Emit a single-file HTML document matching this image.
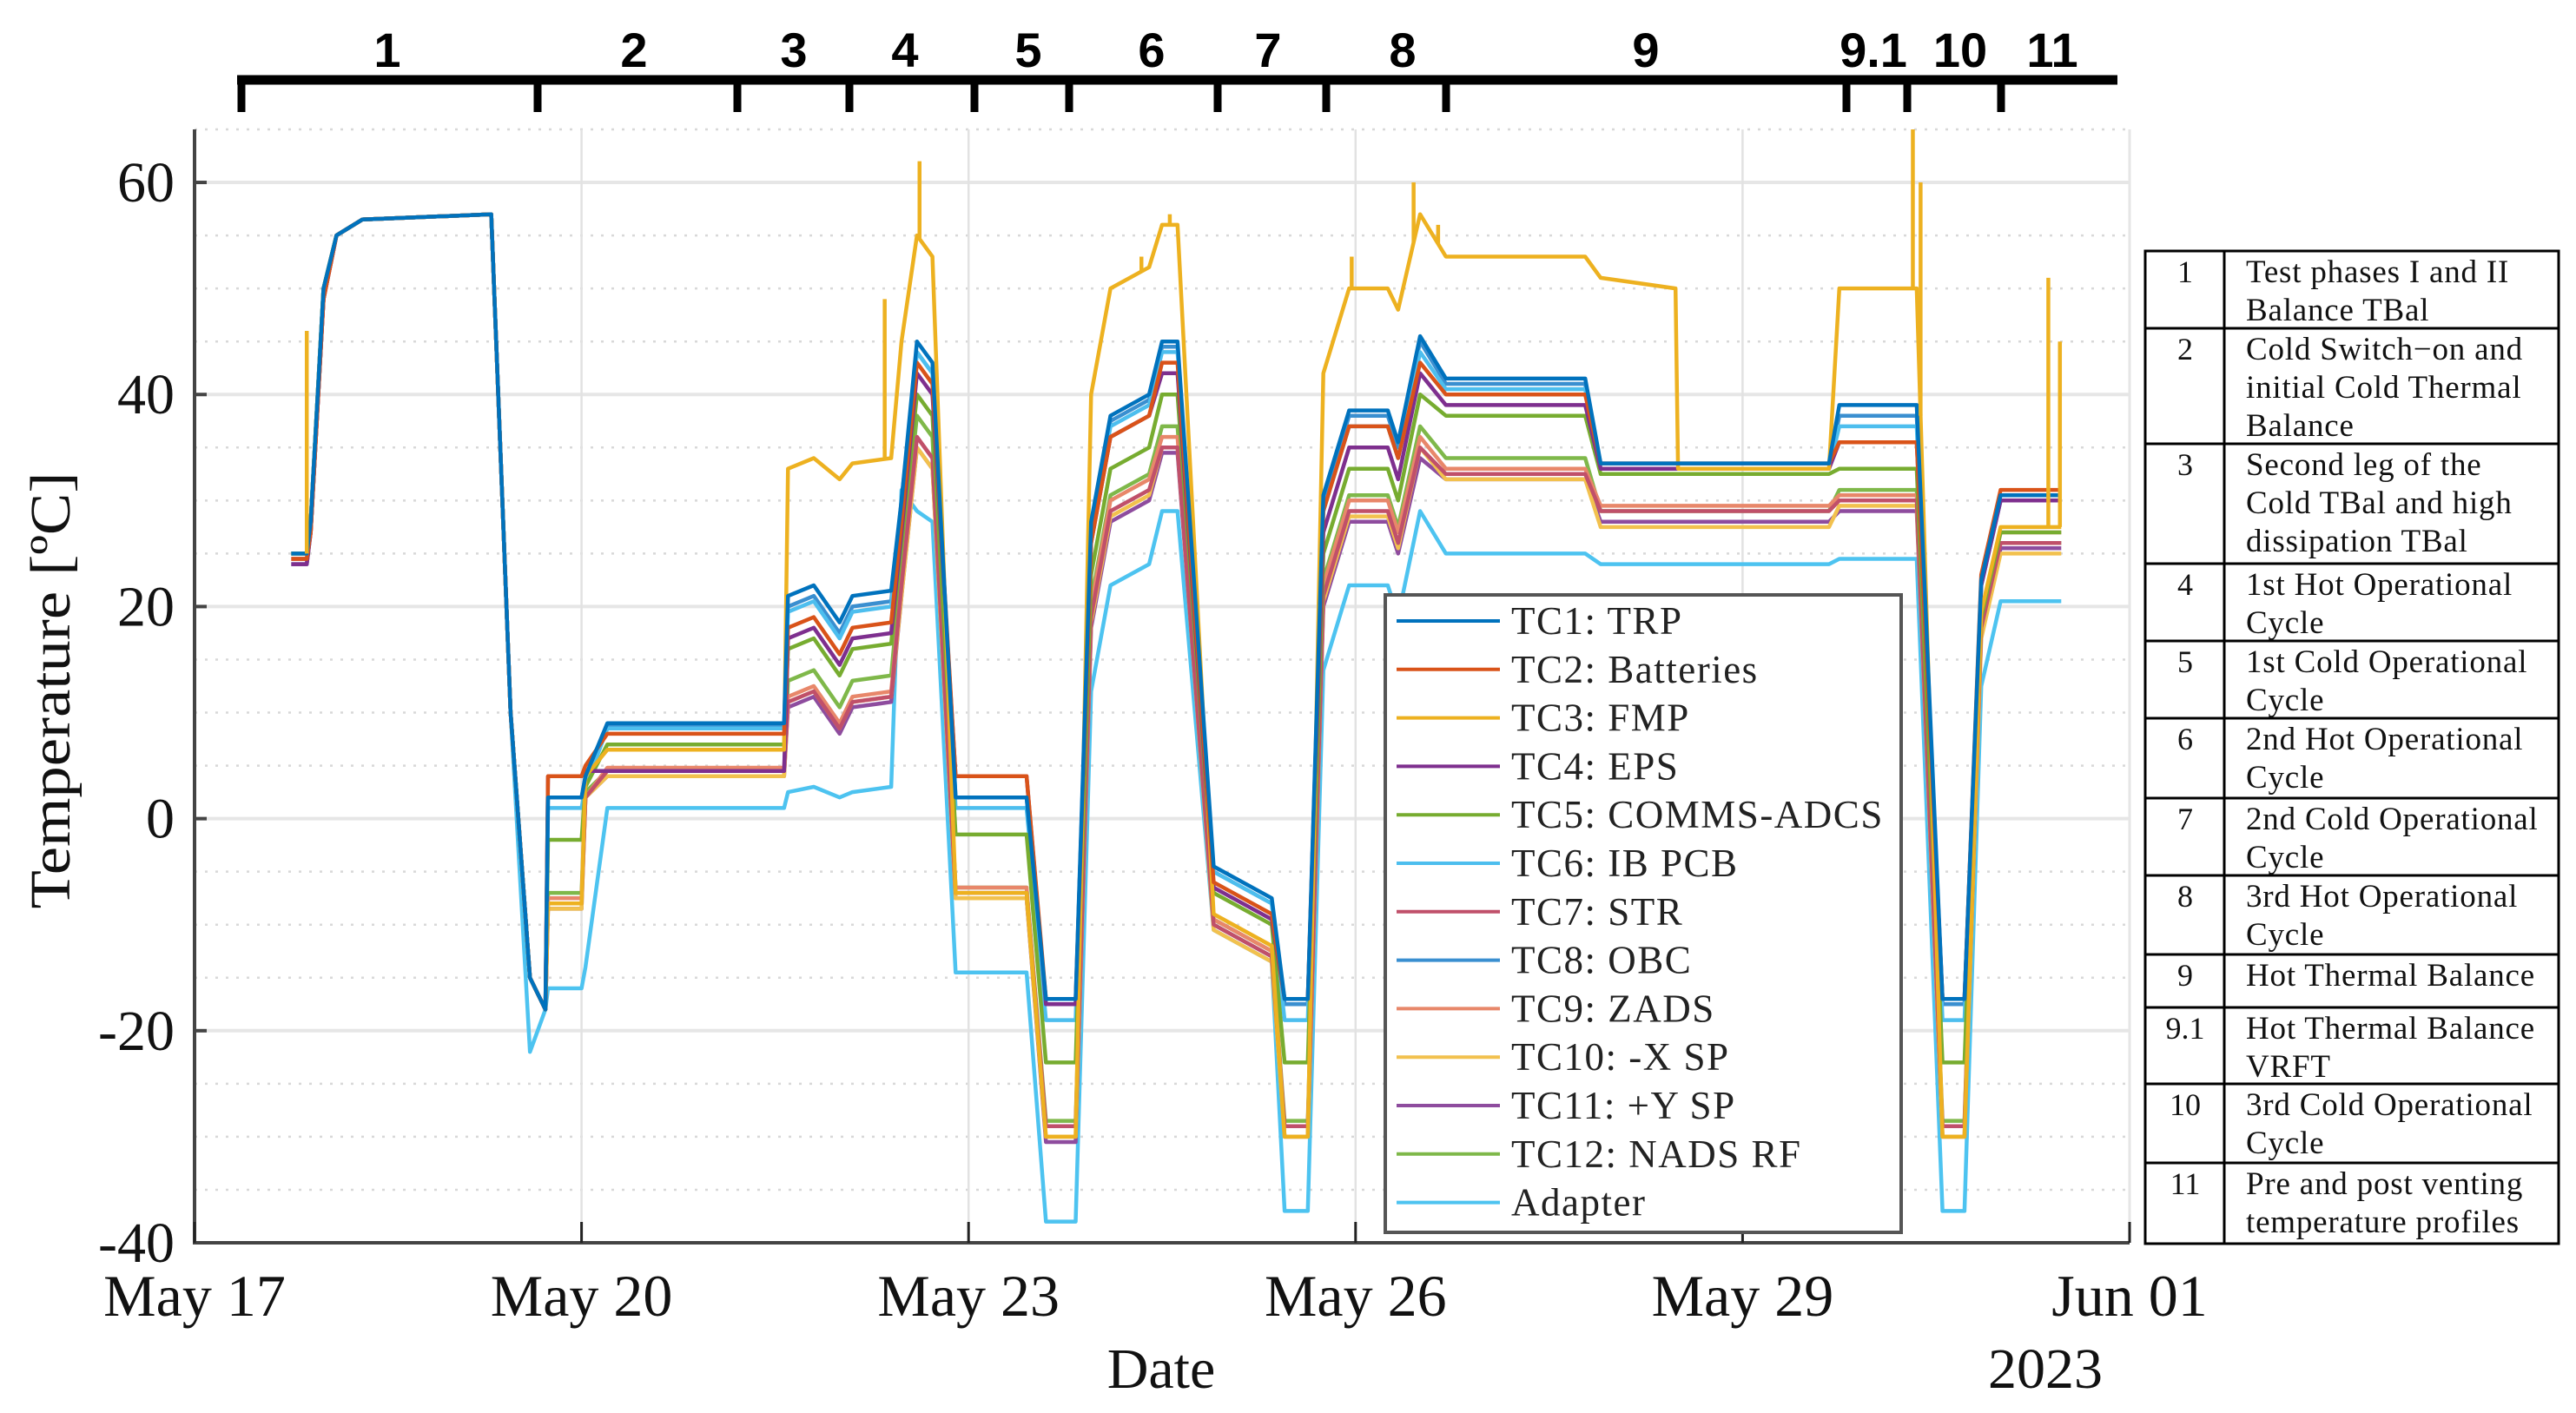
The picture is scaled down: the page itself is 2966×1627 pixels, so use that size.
<!DOCTYPE html>
<html><head><meta charset="utf-8">
<style>
html,body{margin:0;padding:0;background:#fff;}
svg{display:block;}
</style></head>
<body>
<svg id="chart" xmlns="http://www.w3.org/2000/svg" width="2966" height="1627" viewBox="0 0 2966 1627">
<rect width="2966" height="1627" fill="#fff"/>
<g id="grid"></g>
<g id="series"></g>
<g id="axes"></g>
<g id="phases"></g>
<g id="legend"></g>
<g id="table"></g>
</svg>
<script>
// ---- data ----
const xTickLabels = ["May 17","May 20","May 23","May 26","May 29","Jun 01"];
const xTickDays = [0,3,6,9,12,15];
const yTicks = [60,40,20,0,-20,-40];
const seriesNames = ["TC1:  TRP","TC2:  Batteries","TC3:  FMP","TC4:  EPS","TC5:  COMMS-ADCS","TC6:  IB PCB","TC7:  STR","TC8:  OBC","TC9:  ZADS","TC10:  -X SP","TC11:  +Y SP","TC12:  NADS RF","Adapter"];
const seriesColors = ["#0072BD","#D95319","#EDB120","#7E2F8E","#77AC30","#4DBEEE","#C0506A","#3A8FD0","#E8876A","#F2C14E","#8E4C9E","#7FB84A","#4DC3F0"];
const timeDays = [0.75,0.87,0.9,1.0,1.1,1.3,2.3,2.45,2.6,2.72,2.74,3.0,3.03,3.2,4.57,4.6,4.8,5.0,5.1,5.4,5.48,5.6,5.72,5.9,6.45,6.6,6.83,6.95,7.1,7.4,7.5,7.62,7.9,8.35,8.45,8.63,8.75,8.95,9.25,9.33,9.5,9.7,10.78,10.9,11.48,11.5,12.67,12.75,13.35,13.55,13.72,13.85,14.0,14.47];
const tc1 = [25,25,28,50,55,56.5,57,10,-15,-18, 2,2,4,9,9, 21,22,18.5,21,21.5, 30,45,43, 2,2, -17,-17, 28,38,40,45,45, -4.5,-7.5, -17,-17, 30.5,38.5,38.5,35.5,45.5, 41.5,41.5, 33.5,33.5,33.5,33.5, 39,39, -17,-17, 22.5,30.5,30.5];
const tc2 = [24.5,24.5,27,49,55,56.5,57,10,-15,-18, 4,4,5,8,8, 18,19,15.5,18,18.5, 28,43,41, 4,4, -17,-17, 26,36,38,43,43, -6,-9, -17,-17, 29,37,37,34,43, 40,40, 33.5,33.5,33.5,33.5, 35.5,35.5, -17,-17, 23,31,31];
const tc3 = [25,25,28,50,55,56.5,57,10,-15,-18, -8,-8,4,6.5,6.5, 33,34,32,33.5,34, 45,55,53, -7,-7, -30,-30, 40,50,52,56,56, -9,-12, -30,-30, 42,50,50,48,57, 53,53, 51,50,33,33, 50,50, -30,-30, 19.5,27.5,27.5];
const tc4 = [24,24,27,49,55,56.5,57,10,-15,-18, 4,4,4.5,4.5,4.5, 17,18,14.5,17,17.5, 27,42,40, 4,4, -17.5,-17.5, 26,36,38,42,42, -6.5,-9.5, -17,-17, 27,35,35,32,42, 39,39, 33,33,33,33, 35.5,35.5, -17,-17, 22,30,30];
const tc5 = [25,25,28,50,55,56.5,57,10,-15,-18, -2,-2,3,7,7, 16,17,13.5,16,16.5, 26,40,38, -1.5,-1.5, -23,-23, 23,33,35,40,40, -7,-10, -23,-23, 25,33,33,30,40, 38,38, 32.5,32.5,32.5,32.5, 33,33, -23,-23, 19,27,27];
const tc6 = [25,25,28,50,55,56.5,57,10,-15,-18, 1,1,3,8.5,8.5, 19.5,20.5,17,19.5,20, 29,44,42, 1,1, -19,-19, 27,37,39,44,44, -5,-8, -19,-19, 29,37,37,34,44, 40.5,40.5, 33,33,33,33, 37,37, -19,-19, 22,30,30];
const tc7 = [24.5,24.5,27,49,55,56.5,57,10,-15,-18, -8,-8,2,4.5,4.5, 11,12,8.5,11,11.5, 22,36,34, -7,-7, -29,-29, 19,29,31,35,35, -10,-13, -29,-29, 21,29,29,26,35, 32.5,32.5, 29,29,29,29, 30,30, -29,-29, 18,26,26];
const tc8 = [25,25,28,50,55,56.5,57,10,-15,-18, 2,2,4,8.8,8.8, 20,21,17.5,20,20.5, 30,44,42, 2,2, -17.5,-17.5, 27.5,37.5,39.5,44.5,44.5, -5,-8, -17.5,-17.5, 30,38,38,35,45, 41,41, 33,33,33,33, 38,38, -17.5,-17.5, 22,30,30];
const tc9 = [24.5,24.5,27,49,55,56.5,57,10,-15,-18, -7.5,-7.5,2,4.8,4.8, 11.5,12.5,9,11.5,12, 22,36,34, -6.5,-6.5, -29,-29, 20,30,32,36,36, -9.5,-12.5, -29,-29, 22,30,30,27,36, 33,33, 29.5,29.5,29.5,29.5, 30.5,30.5, -29,-29, 19,27,27];
const tc10 = [25,25,28,50,55,56.5,57,10,-15,-18, -8.5,-8.5,2,4,4, 11,12,8.5,11,11.5, 21,35,33, -7.5,-7.5, -30,-30, 18.5,28.5,30.5,35,35, -10.5,-13.5, -30,-30, 20.5,28.5,28.5,25.5,35, 32,32, 27.5,27.5,27.5,27.5, 29.5,29.5, -30,-30, 17,25,25];
const tc11 = [24,24,27,49,55,56.5,57,10,-15,-18, -8.5,-8.5,2,4,4, 10.5,11.5,8,10.5,11, 21,35,33, -7.5,-7.5, -30.5,-30.5, 18,28,30,34.5,34.5, -10,-13, -30,-30, 20,28,28,25,34, 32,32, 28,28,28,28, 29,29, -30,-30, 17.5,25.5,25.5];
const tc12 = [25,25,28,50,55,56.5,57,10,-15,-18, -7,-7,2.5,4.5,4.5, 13,14,10.5,13,13.5, 24,38,36, -6.5,-6.5, -28.5,-28.5, 20.5,30.5,32.5,37,37, -9.5,-12.5, -28.5,-28.5, 22.5,30.5,30.5,27.5,37, 34,34, 29,29,29,29, 31,31, -28.5,-28.5, 18,26,26];
const adapter = [24,24,27,49,55,56.5,57,10,-22,-18, -16,-16,-14,1,1, 2.5,3,2,2.5,3, 31,29,28, -14.5,-14.5, -38,-38, 12,22,24,29,29, -10.5,-13.5, -37,-37, 14,22,22,19,29, 25,25, 24,24,24,24, 24.5,24.5, -37,-37, 12.5,20.5,20.5];
const fmpSpikeDays = [0.87,5.35,5.62,7.34,7.56,8.97,9.45,9.64,13.32,13.38,14.37,14.46];
const fmpSpikeTops = [46,49,62,53,57,53,60,56,65,60,51,45];
const phaseLabels = ["1","2","3","4","5","6","7","8","9","9.1","10","11"];
const phaseLabelX = [446,730,914,1042,1184,1326,1460,1615,1895,2157,2257,2363];
const phaseTickX = [278,619,849,978,1122,1231,1402,1527,1665,2126,2196,2304];
const tableNums = ["1","2","3","4","5","6","7","8","9","9.1","10","11"];
const tableText = [["Test phases I and II","Balance TBal"],["Cold Switch\u2212on and","initial Cold Thermal","Balance"],["Second leg of the","Cold TBal and high","dissipation TBal"],["1st Hot Operational","Cycle"],["1st Cold Operational","Cycle"],["2nd Hot Operational","Cycle"],["2nd Cold Operational","Cycle"],["3rd Hot Operational","Cycle"],["Hot Thermal Balance"],["Hot Thermal Balance","VRFT"],["3rd Cold Operational","Cycle"],["Pre and post venting","temperature profiles"]];
const allSeries = [tc1,tc2,tc3,tc4,tc5,tc6,tc7,tc8,tc9,tc10,tc11,tc12,adapter];

// ---- layout ----
const NS="http://www.w3.org/2000/svg";
const L=224,R=2452,TOP=149,BOT=1431;
const yMin=-40,yMax=65;
function X(d){return L+d*(R-L)/15;}
function Y(v){return BOT-(v-yMin)*(BOT-TOP)/(yMax-yMin);}
function mk(tag,attrs,parent){const e=document.createElementNS(NS,tag);for(const k in attrs)e.setAttribute(k,attrs[k]);parent.appendChild(e);return e;}
const grid=document.getElementById('grid'),ser=document.getElementById('series'),axes=document.getElementById('axes'),ph=document.getElementById('phases'),leg=document.getElementById('legend'),tab=document.getElementById('table');

// grid
for(let v=-35;v<=65;v+=5){
  if(v%20===0)continue;
  const g=mk('line',{x1:L,x2:R,y1:Y(v),y2:Y(v),stroke:'#d8d8d8','stroke-width':2.5,'stroke-dasharray':'3,9'},grid);
  
  
}
yTicks.forEach(v=>{
  const g=mk('line',{x1:L,x2:R,y1:Y(v),y2:Y(v),stroke:'#e6e6e6','stroke-width':4},grid);
  
  
});
xTickDays.forEach(d=>{
  const g=mk('line',{x1:X(d),x2:X(d),y1:TOP,y2:BOT,stroke:'#e2e2e2','stroke-width':2.5},grid);
  
  
});

// series
function interp(arr,d){for(let i=0;i<timeDays.length-1;i++){if(d>=timeDays[i]&&d<=timeDays[i+1]){const f=(d-timeDays[i])/(timeDays[i+1]-timeDays[i]);return arr[i]+f*(arr[i+1]-arr[i]);}}return arr[arr.length-1];}
for(let s=allSeries.length-1;s>=0;s--){
  const vals=allSeries[s];
  const pts=timeDays.map((d,i)=>X(d).toFixed(1)+','+Y(vals[i]).toFixed(1)).join(' ');
  const p=mk('polyline',{points:pts,fill:'none',stroke:seriesColors[s],'stroke-width':4.5,'stroke-linejoin':'round'},ser);
  
  
}
fmpSpikeDays.forEach((d,i)=>{
  const l=mk('line',{x1:X(d),x2:X(d),y1:Y(interp(tc3,d)),y2:Y(fmpSpikeTops[i]),stroke:seriesColors[2],'stroke-width':4.5},ser);
  
  
});

// axes
const ax1=mk('line',{x1:L,x2:L,y1:TOP,y2:BOT+2,stroke:'#444','stroke-width':4},axes);


const ax2=mk('line',{x1:L-2,x2:R,y1:BOT,y2:BOT,stroke:'#444','stroke-width':4},axes);


const ax3=mk('line',{x1:R,x2:R,y1:TOP,y2:BOT,stroke:'#e6e6e6','stroke-width':3},axes);


yTicks.forEach(v=>{
  const t=mk('line',{x1:L,x2:L+14,y1:Y(v),y2:Y(v),stroke:'#444','stroke-width':4},axes);
  
  
  const tx=mk('text',{x:201,y:Y(v)+22,'text-anchor':'end','font-family':'Liberation Serif, serif','font-size':66,fill:'#111'},axes);
  tx.textContent=String(v);
  
  
});
xTickDays.forEach((d,i)=>{
  const t=mk('line',{x1:X(d),x2:X(d),y1:BOT,y2:BOT-24,stroke:'#222','stroke-width':3},axes);
  
  
  const tx=mk('text',{x:X(d),y:1515,'text-anchor':'middle','font-family':'Liberation Serif, serif','font-size':68,fill:'#111'},axes);
  tx.textContent=xTickLabels[i];
  
  
});
const xt=mk('text',{x:1337,y:1598,'text-anchor':'middle','font-family':'Liberation Serif, serif','font-size':66,fill:'#111'},axes);
xt.textContent='Date';


const yr=mk('text',{x:2355,y:1598,'text-anchor':'middle','font-family':'Liberation Serif, serif','font-size':66,fill:'#111'},axes);
yr.textContent='2023';


const yt=mk('text',{x:0,y:0,'text-anchor':'middle','font-family':'Liberation Serif, serif','font-size':66,fill:'#111',transform:'translate(80,795) rotate(-90)',textLength:503,lengthAdjust:'spacingAndGlyphs'},axes);
yt.textContent='Temperature [ºC]';



// phase bracket
const bar=mk('line',{x1:278-5,x2:2438,y1:92,y2:92,stroke:'#000','stroke-width':11},ph);


phaseTickX.forEach(x=>{
  const t=mk('line',{x1:x,x2:x,y1:88,y2:129,stroke:'#000','stroke-width':9},ph);
  
  
});
phaseLabels.forEach((s,i)=>{
  const t=mk('text',{x:phaseLabelX[i],y:77,'text-anchor':'middle','font-family':'Liberation Sans, sans-serif','font-weight':'bold','font-size':56,fill:'#000'},ph);
  t.textContent=s;
  
  
});

// legend
const lb=mk('rect',{x:1595,y:685,width:594,height:734,fill:'#fff',stroke:'#555','stroke-width':4},leg);


seriesNames.forEach((n,i)=>{
  const y=715+i*55.8;
  const l=mk('line',{x1:1608,x2:1727,y1:y,y2:y,stroke:seriesColors[i],'stroke-width':4},leg);
  
  
  const t=mk('text',{x:1740,y:y+15,'font-family':'Liberation Serif, serif','font-size':45,'letter-spacing':1.5,fill:'#222','xml:space':'preserve'},leg);
  t.textContent=n;
  
  
});

// table
const rowB=[289,378,511,649,738,827,919,1008,1099,1160,1248,1339,1432];
const tb=mk('rect',{x:2470,y:289,width:476,height:1143,fill:'none',stroke:'#000','stroke-width':3},tab);


const cd=mk('line',{x1:2561,x2:2561,y1:289,y2:1432,stroke:'#000','stroke-width':3},tab);


for(let i=1;i<rowB.length-1;i++){
  const r=mk('line',{x1:2470,x2:2946,y1:rowB[i],y2:rowB[i],stroke:'#000','stroke-width':3},tab);
  
  
}
tableNums.forEach((n,i)=>{
  const top=rowB[i];
  const t=mk('text',{x:2516,y:top+36,'text-anchor':'middle','font-family':'Liberation Serif, serif','font-size':36,fill:'#111'},tab);
  t.textContent=n;
  
  
  tableText[i].forEach((line,j)=>{
    const d=mk('text',{x:2586,y:top+36+j*44,'font-family':'Liberation Serif, serif','font-size':37,'letter-spacing':0.8,fill:'#111'},tab);
    d.textContent=line;
    
    
  });
});
</script>
</body></html>
